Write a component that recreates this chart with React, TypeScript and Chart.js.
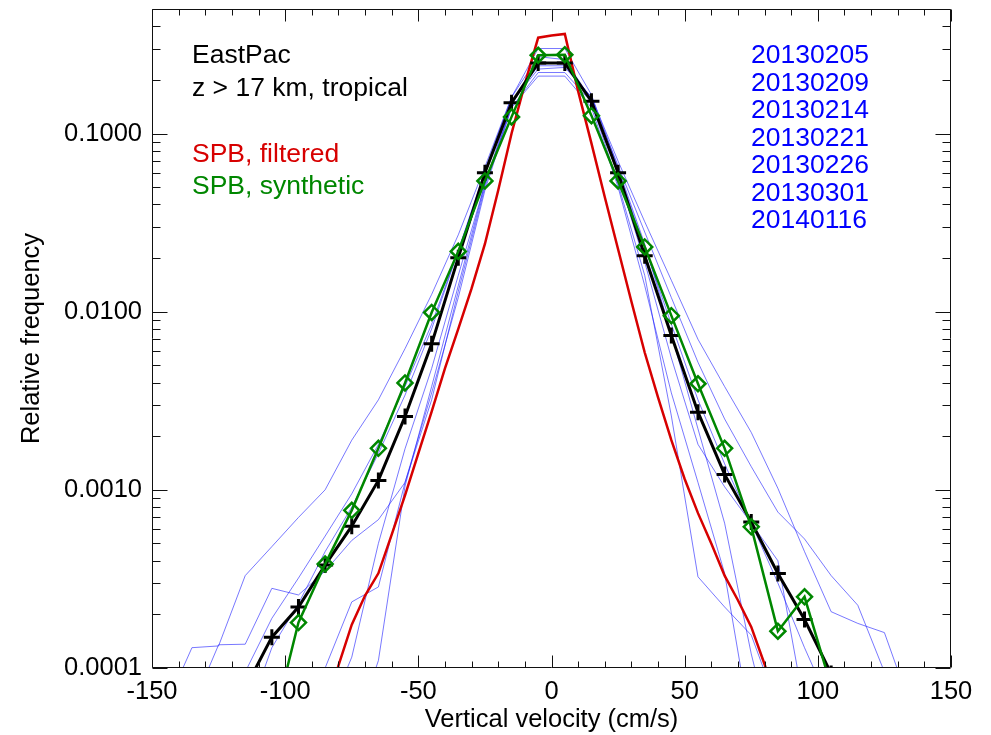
import { useEffect, useRef } from 'react';
import { Chart, registerables } from 'chart.js';

Chart.register(...registerables);

// ---------- data ----------
const bins = [-145, -135, -125, -115, -105, -95, -85, -75, -65, -55, -45, -35, -25, -15, -5, 5, 15, 25, 35, 45, 55, 65, 75, 85, 95, 105, 115, 125, 135, 145];

// SPB mean (black, + markers)
const meanValues = [null, null, null, 7.7e-5, 1.49e-4, 2.2e-4, 3.78e-4, 6.25e-4, 1.13e-3, 2.58e-3, 6.6e-3, 0.0201, 0.0603, 0.149, 0.249, 0.249, 0.152, 0.0603, 0.0206, 7.35e-3, 2.73e-3, 1.22e-3, 6.6e-4, 3.39e-4, 1.87e-4, 9.3e-5, null, null, null, null];

// SPB synthetic (green, diamonds)
const syntheticValues = [null, null, null, null, 4.5e-5, 1.8e-4, 3.83e-4, 7.67e-4, 1.71e-3, 3.98e-3, 9.9e-3, 0.0218, 0.0542, 0.124, 0.275, 0.277, 0.126, 0.0542, 0.0231, 9.5e-3, 3.94e-3, 1.71e-3, 6.2e-4, 1.61e-4, 2.51e-4, 7.9e-5, null, null, null, null];

// SPB filtered (red, fine resolution)
const filteredX = [-85, -80, -75, -70, -65, -60, -55, -50, -45, -40, -35, -30, -25, -20, -15, -10, -5, 0, 5, 10, 15, 20, 25, 30, 35, 40, 45, 50, 55, 60, 65, 70, 75, 80, 85];
const filteredValues = [6e-5, 1.03e-4, 1.75e-4, 2.55e-4, 3.4e-4, 5.6e-4, 9.3e-4, 1.6e-3, 2.75e-3, 4.8e-3, 8.0e-3, 0.0135, 0.024, 0.048, 0.1, 0.19, 0.345, 0.355, 0.362, 0.173, 0.088, 0.044, 0.0224, 0.0114, 5.9e-3, 3.3e-3, 1.9e-3, 1.15e-3, 7.4e-4, 5.0e-4, 3.3e-4, 2.4e-4, 1.7e-4, 1.05e-4, 6e-5];

// individual flights (thin blue)
const flightDates = ['20130205', '20130209', '20130214', '20130221', '20130226', '20130301', '20140116'];
const flight1 = [6e-5, 1.3e-4, 1.33e-4, 3.3e-4, 4.8e-4, 7e-4, 1.0e-3, 1.9e-3, 3.2e-3, 6.2e-3, 0.0125, 0.027, 0.065, 0.16, 0.27, 0.26, 0.155, 0.062, 0.023, 8.5e-3, 3.2e-3, 1.4e-3, 6.5e-4, 3.0e-4, 1.3e-4, 6e-5, null, null, null, null];
const flight2 = [null, null, 5e-5, 9.5e-5, 1.9e-4, 3.2e-4, 5.5e-4, 9.5e-4, 1.8e-3, 3.8e-3, 8.5e-3, 0.022, 0.06, 0.15, 0.23, 0.235, 0.16, 0.07, 0.032, 0.015, 7e-3, 3.8e-3, 2.1e-3, 1.02e-3, 4.5e-4, 2.07e-4, 1.78e-4, 1.58e-4, 6e-5, null];
const flight3 = [null, 6e-5, 1.35e-4, 1.36e-4, 2.8e-4, 2.57e-4, 3.5e-4, 5.2e-4, 6.8e-4, 1.1e-3, 3.2e-3, 0.013, 0.05, 0.145, 0.25, 0.25, 0.155, 0.066, 0.028, 0.012, 5.2e-3, 2.5e-3, 1.35e-3, 7.5e-4, 5.3e-4, 3.3e-4, 2.25e-4, 9.5e-5, 4e-5, null];
const flight4 = [null, null, null, null, null, null, null, 4e-5, 1.1e-4, 1.05e-3, 3.8e-3, 0.014, 0.052, 0.14, 0.21, 0.21, 0.14, 0.05, 0.014, 3.5e-3, 1.1e-3, 3.4e-4, 4.5e-5, null, null, null, null, null, null, null];
const flight5 = [null, null, null, null, null, 5e-5, 1.0e-4, 2.35e-4, 2.85e-4, 1.1e-3, 3.5e-3, 0.012, 0.048, 0.14, 0.22, 0.22, 0.15, 0.052, 0.016, 2.6e-3, 3.25e-4, 2.2e-4, 1.53e-4, 6e-5, null, null, null, null, null, null];
const flight6 = [null, null, null, null, null, null, 5e-5, 1.15e-4, 5e-4, 1.7e-3, 4.8e-3, 0.016, 0.052, 0.15, 0.24, 0.24, 0.16, 0.058, 0.019, 5.5e-3, 1.8e-3, 1.04e-3, 6.5e-4, 4.0e-4, 6e-5, null, null, null, null, null];
const flight7 = [null, null, null, 5e-5, 1.3e-4, 2.3e-4, 4.5e-4, 8e-4, 1.6e-3, 3.4e-3, 8e-3, 0.022, 0.062, 0.16, 0.3, 0.3, 0.165, 0.064, 0.024, 7.5e-3, 2.2e-3, 6.5e-4, 1.2e-4, 3e-5, null, null, null, null, null, null];
const flights = [flight1, flight2, flight3, flight4, flight5, flight6, flight7];

// axis ticks
const xTickValues = [-150, -100, -50, 0, 50, 100, 150];
const yTickValues = [1e-4, 1e-3, 1e-2, 1e-1];
const yMin = 1e-4;
const yMax = 0.5;

// annotation texts
const infoLines = ['EastPac', 'z > 17 km, tropical'];
const legendLabels = ['SPB, filtered', 'SPB, synthetic'];

// ---------- styles ----------
const FONT = "'Liberation Sans', Arial, Helvetica, sans-serif";
const BLUE_LINE = 'rgba(30,30,255,0.6)';
const RED = 'rgb(215,0,0)';
const GREEN = 'rgb(0,135,0)';
const BLUE_TEXT = 'rgb(0,0,255)';

const toPoints = (xs: number[], vals: (number | null)[]) => xs.map((x, i) => ({ x, y: vals[i] }));

const drawStretched = (ctx: CanvasRenderingContext2D, s: string, x: number, y: number, color: string) => {
  ctx.save();
  ctx.translate(x, y);
  ctx.scale(1.06, 1);
  ctx.fillStyle = color;
  ctx.fillText(s, 0, 0);
  ctx.restore();
};

const framePlugin = {
  id: 'idlFrame',
  afterDraw(chart: any) {
    const { ctx, chartArea: a, scales } = chart;
    const xs = scales.x;
    const ys = scales.y;
    ctx.save();
    ctx.strokeStyle = '#111';
    ctx.lineWidth = 1;
    const L = Math.round(a.left) + 0.5;
    const R = Math.round(a.right) - 0.5;
    const T = Math.round(a.top) + 0.5;
    const B = Math.round(a.bottom) - 0.5;
    ctx.beginPath();
    ctx.rect(L, T, R - L, B - T);
    // x ticks (major 50, minor 10)
    for (let v = -150; v <= 150; v += 10) {
      const px = Math.round(xs.getPixelForValue(v)) + 0.5;
      const len = v % 50 === 0 ? 12 : 6;
      ctx.moveTo(px, B); ctx.lineTo(px, B - len);
      ctx.moveTo(px, T); ctx.lineTo(px, T + len);
    }
    // y ticks (major decades, minor 2..9)
    for (let e = -4; e <= 0; e++) {
      for (let m = 1; m <= 9; m++) {
        const v = m * Math.pow(10, e);
        if (v < yMin * 0.999 || v > yMax * 1.001) continue;
        const py = Math.round(ys.getPixelForValue(v)) + 0.5;
        const len = m === 1 ? 15 : 8;
        ctx.moveTo(L, py); ctx.lineTo(L + len, py);
        ctx.moveTo(R, py); ctx.lineTo(R - len, py);
      }
    }
    ctx.stroke();

    ctx.font = `25px ${FONT}`;
    ctx.textBaseline = 'alphabetic';
    ctx.textAlign = 'left';
    drawStretched(ctx, infoLines[0], 192, 63, '#000');
    drawStretched(ctx, infoLines[1], 192, 96, '#000');
    drawStretched(ctx, legendLabels[0], 192, 162, RED);
    drawStretched(ctx, legendLabels[1], 192, 194, GREEN);
    flightDates.forEach((d, i) => drawStretched(ctx, d, 751, 63 + i * 27.5, BLUE_TEXT));
    ctx.restore();
  },
};

export default function App() {
  const ref = useRef<HTMLCanvasElement | null>(null);

  useEffect(() => {
    if (!ref.current) return;
    const markerRadius = (r: number) => (c: any) => (c.raw && c.raw.y != null && c.raw.y >= 8.5e-5 ? r : 0);

    const datasets: any[] = [
      {
        label: 'SPB, synthetic',
        data: toPoints(bins, syntheticValues),
        borderColor: GREEN,
        borderWidth: 2.5,
        pointStyle: 'rectRot',
        pointRadius: markerRadius(7.5),
        pointBorderColor: GREEN,
        pointBackgroundColor: 'rgba(0,0,0,0)',
        pointBorderWidth: 2.5,
        tension: 0,
      },
      {
        label: 'SPB mean',
        data: toPoints(bins, meanValues),
        borderColor: '#000',
        borderWidth: 3,
        pointStyle: 'cross',
        pointRadius: markerRadius(8),
        pointBorderColor: '#000',
        pointBorderWidth: 3,
        tension: 0,
      },
      {
        label: 'SPB, filtered',
        data: toPoints(filteredX, filteredValues),
        borderColor: RED,
        borderWidth: 2.5,
        pointRadius: 0,
        tension: 0,
      },
      ...flights.map((f, i) => ({
        label: flightDates[i],
        data: toPoints(bins, f),
        borderColor: BLUE_LINE,
        borderWidth: 1,
        pointRadius: 0,
        tension: 0,
      })),
    ];

    const chart = new Chart(ref.current, {
      type: 'line',
      data: { datasets },
      options: {
        animation: false,
        responsive: false,
        maintainAspectRatio: false,
        layout: { padding: { top: 9, right: 40, left: 0, bottom: 0 } },
        plugins: { legend: { display: false }, tooltip: { enabled: false } },
        scales: {
          x: {
            type: 'linear',
            min: -150,
            max: 150,
            grid: { display: false, drawTicks: false },
            border: { display: false },
            afterBuildTicks: (s: any) => { s.ticks = xTickValues.map((value) => ({ value })); },
            afterFit: (s: any) => { s.height = 67; s.paddingLeft = 0; s.paddingRight = 0; },
            ticks: {
              color: '#000',
              padding: 9,
              maxRotation: 0,
              autoSkip: false,
              font: { family: FONT, size: 25.5 },
              callback: (v: any) => String(v),
            },
            title: {
              display: true,
              text: 'Vertical velocity (cm/s)',
              color: '#000',
              font: { family: FONT, size: 25.5 },
              padding: { top: 0, bottom: 0 },
            },
          },
          y: {
            type: 'logarithmic',
            min: yMin,
            max: yMax,
            grid: { display: false, drawTicks: false },
            border: { display: false },
            afterBuildTicks: (s: any) => { s.ticks = yTickValues.map((value) => ({ value })); },
            afterFit: (s: any) => { s.width = 152; s.paddingTop = 0; s.paddingBottom = 0; },
            ticks: {
              color: '#000',
              padding: 10,
              autoSkip: false,
              font: { family: FONT, size: 25.5 },
              callback: (v: any) => Number(v).toFixed(4),
            },
            title: {
              display: true,
              text: 'Relative frequency',
              color: '#000',
              font: { family: FONT, size: 25.5 },
              padding: { top: 17, bottom: 0 },
            },
          },
        },
      },
      plugins: [framePlugin],
    });
    return () => chart.destroy();
  }, []);

  return (
    <div style={{ position: 'absolute', left: 0, top: 0, width: 991, height: 735, background: '#fff' }}>
      <canvas ref={ref} width={991} height={735} style={{ width: 991, height: 735, display: 'block' }} />
    </div>
  );
}
